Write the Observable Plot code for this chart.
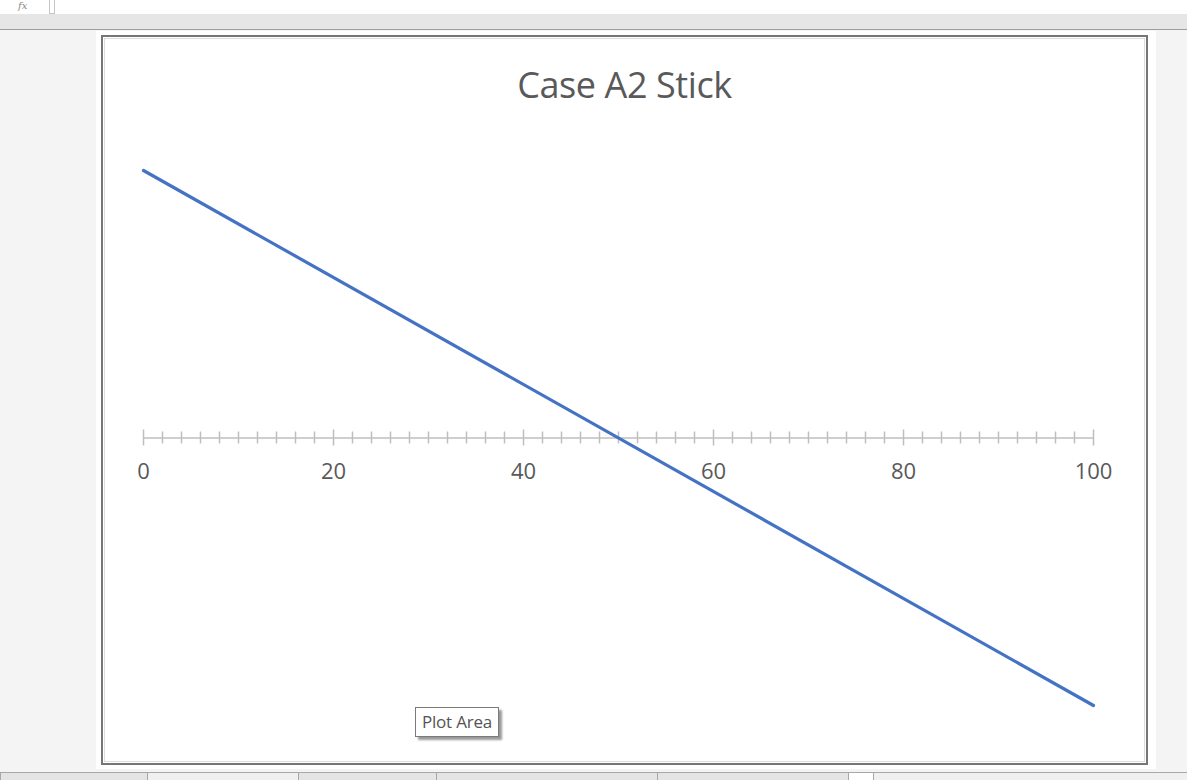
<!DOCTYPE html>
<html>
<head>
<meta charset="utf-8">
<script src="https://cdn.jsdelivr.net/npm/d3@7"></script>
<script src="https://cdn.jsdelivr.net/npm/@observablehq/plot@0.6"></script>
<style>
  html, body { margin: 0; padding: 0; }
  body { width: 1187px; height: 780px; overflow: hidden; background: #f4f4f4; position: relative; font-family: "Open Sans", sans-serif; }
  .abs { position: absolute; box-sizing: border-box; }
  #topbar { left: 0; top: 0; width: 1187px; height: 14px; background: #fff; border-bottom: 1px solid #c6c6c6; }
  #fx { left: 0; top: 0; width: 50px; height: 14px; border-right: 1px solid #c6c6c6; background: #fff; font-style: italic; font-family: "DejaVu Serif", serif; font-size: 10px; color: #888; line-height: 12px; padding-left: 18px; }
  #fxin { left: 54px; top: 0; width: 1133px; height: 14px; border-left: 1px solid #c6c6c6; background: #fff; }
  #strip { left: 0; top: 14px; width: 1187px; height: 16px; background: #e6e6e6; border-bottom: 1px solid #9e9e9e; }
  #chartbg { left: 96px; top: 31px; width: 1060px; height: 738px; background: #fff; }
  #outer { left: 101px; top: 35px; width: 1047px; height: 730px; border: 2px solid #767676; }
  #inner { left: 104px; top: 38px; width: 1041px; height: 724px; border: 1px solid #dcdcdc; }
  #title { left: 101px; top: 62px; width: 1047px; text-align: center; font-size: 36px; color: #595959; line-height: 46px; letter-spacing: -0.4px; }
  #plot { left: 103px; top: 110px; }
  #tip { left: 415px; top: 707px; width: 84px; height: 30px; background: #fff; border: 1px solid #7a7a7a; box-shadow: 3px 3px 2px #9a9a9a; font-size: 17px; color: #555; line-height: 28px; text-align: center; letter-spacing: -0.2px; }
  #bottombar { left: 0; top: 772px; width: 1187px; height: 8px; background: #f0f0f0; border-top: 1px solid #a8a8a8; }
  .tab { top: 773px; height: 7px; background: #e4e4e4; border-left: 1px solid #a8a8a8; border-right: 1px solid #a8a8a8; }
</style>
</head>
<body>
<div id="topbar" class="abs"></div>
<div id="fx" class="abs">fx</div>
<div id="fxin" class="abs"></div>
<div id="strip" class="abs"></div>
<div id="chartbg" class="abs"></div>
<div id="outer" class="abs"></div>
<div id="inner" class="abs"></div>
<div id="title" class="abs">Case A2 Stick</div>
<div id="plot" class="abs"></div>
<div id="tip" class="abs">Plot Area</div>
<div id="bottombar" class="abs"></div>
<div class="abs tab" style="left:0;width:148px;"></div>
<div class="abs tab" style="left:298px;width:139px;"></div>
<div class="abs tab" style="left:436px;width:222px;"></div>
<div class="abs tab" style="left:657px;width:192px;"></div>
<div class="abs tab" style="left:848px;width:26px;background:#fff;"></div>
<script>
// Data
const positions = [0, 100];
const values = [10, -10];
const majorTicks = [0, 20, 40, 60, 80, 100];
const minorTicks = d3.range(0, 101, 2).filter(v => v % 20 !== 0);
const tickLabels = ["0", "20", "40", "60", "80", "100"];

const lineData = positions.map((x, i) => ({x, y: values[i]}));
const majorData = majorTicks.map((x, i) => ({x, label: tickLabels[i]}));

const chart = Plot.plot({
  width: 1041,
  height: 630,
  marginLeft: 40,
  marginRight: 51,
  marginTop: 60,
  marginBottom: 35,
  x: {domain: [0, 100], axis: null},
  y: {domain: [-10, 10], axis: null},
  style: {background: "transparent", overflow: "visible"},
  marks: [
    Plot.ruleY([0], {x1: 0, x2: 100, stroke: "#bfbfbf", strokeWidth: 1.5}),
    Plot.ruleX(minorTicks, {x: d => d, y1: 0, y2: 0, insetTop: -6, insetBottom: -6, stroke: "#bfbfbf", strokeWidth: 1.5}),
    Plot.ruleX(majorData, {x: "x", y1: 0, y2: 0, insetTop: -8, insetBottom: -8, stroke: "#bfbfbf", strokeWidth: 1.5}),
    Plot.text(majorData, {x: "x", y: () => 0, text: "label", dy: 34, fontSize: 22, fill: "#595959", fontFamily: "Open Sans"}),
    Plot.line(lineData, {x: "x", y: "y", stroke: "#4472c4", strokeWidth: 3.2})
  ]
});
document.getElementById("plot").appendChild(chart);
</script>
</body>
</html>
